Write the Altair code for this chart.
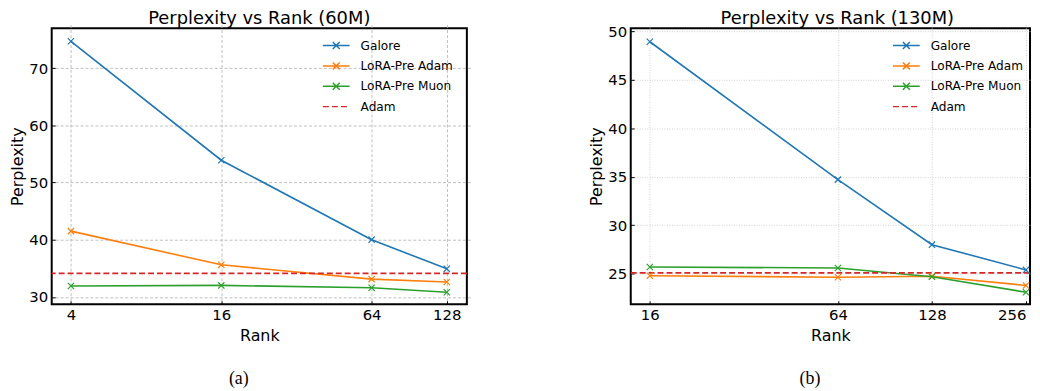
import altair as alt
import pandas as pd

# ---- data ----
series_names = ["Galore", "LoRA-Pre Adam", "LoRA-Pre Muon", "Adam"]
series_colors = ["#1f77b4", "#ff7f0e", "#2ca02c", "#d62728"]

ranks_60m = [4, 16, 64, 128]
galore_60m = [74.7, 53.9, 40.0, 34.9]
lorapre_adam_60m = [41.5, 35.6, 33.1, 32.6]
lorapre_muon_60m = [31.9, 32.0, 31.6, 30.8]
adam_60m = 34.1

ranks_130m = [16, 64, 128, 256]
galore_130m = [48.9, 34.7, 28.0, 25.4]
lorapre_adam_130m = [24.8, 24.65, 24.75, 23.8]
lorapre_muon_130m = [25.7, 25.6, 24.7, 23.1]
adam_130m = 25.1

y_ticks_60m = [30, 40, 50, 60, 70]
y_ticks_130m = [25, 30, 35, 40, 45, 50]

FONT = "DejaVu Sans"
X_PATH = "M-1,-1L1,1M-1,1L1,-1"
LEG_LINE_X = "M-2,0H2M-0.52,-0.52L0.52,0.52M-0.52,0.52L0.52,-0.52"
LEG_DASH = "M-2,0H-1.1M-0.65,0H0.25M0.7,0H1.6"
legend_shapes = [LEG_LINE_X, LEG_LINE_X, LEG_LINE_X, LEG_DASH]


def make_df(ranks, g, a, m):
    rows = []
    for name, vals in zip(series_names[:3], [g, a, m]):
        for r, v in zip(ranks, vals):
            rows.append({"Rank": r, "Perplexity": v, "Series": name})
    return pd.DataFrame(rows)


def panel(ranks, g, a, m, adam, xdom, ydom, yticks, title, grid_dash, grid_color,
          width, legend_x, title_dx, title_offset):
    df = make_df(ranks, g, a, m)
    adf = pd.DataFrame({"Perplexity": [adam], "Series": ["Adam"]})
    cscale = alt.Scale(domain=series_names, range=series_colors)
    legend = alt.Legend(
        title=None,
        orient="none",
        legendX=legend_x,
        legendY=10,
        labelFont=FONT,
        labelFontSize=12.2,
        labelColor="black",
        symbolSize=182,
        symbolStrokeWidth=1.5,
        symbolOpacity=1,
        symbolFillColor="transparent",
        labelOffset=17,
        rowPadding=5.5,
        padding=0,
    )
    xenc = alt.X(
        "Rank:Q",
        scale=alt.Scale(type="log", base=2, domain=xdom, nice=False),
        axis=alt.Axis(values=ranks, format="d", title="Rank", gridDash=grid_dash,
                      gridColor=grid_color, labelFlush=6),
    )
    yenc = alt.Y(
        "Perplexity:Q",
        scale=alt.Scale(domain=ydom, nice=False, zero=False),
        axis=alt.Axis(values=yticks, title="Perplexity", gridDash=grid_dash,
                      gridColor=grid_color),
    )
    color = alt.Color("Series:N", scale=cscale, legend=legend)
    shape = alt.Shape("Series:N", scale=alt.Scale(domain=series_names, range=legend_shapes),
                      legend=legend)
    lines = alt.Chart(df).mark_line(strokeWidth=1.6, clip=True).encode(
        x=xenc, y=yenc, color=color, detail="Series:N")
    pts = alt.Chart(df).mark_point(shape=X_PATH, filled=False, size=40, strokeWidth=1.2,
                                   opacity=1, clip=True).encode(
        x="Rank:Q", y="Perplexity:Q", color=color)
    rule = alt.Chart(adf).mark_rule(strokeDash=[6, 3], strokeWidth=1.8).encode(
        y="Perplexity:Q", color=color)
    legend_src = alt.Chart(df).mark_point(filled=False, strokeOpacity=0, size=1).encode(
        x="Rank:Q", y="Perplexity:Q", color=color, shape=shape,
    )
    layer = alt.layer(legend_src, lines, rule, pts).properties(
        width=width, height=278,
        title=alt.TitleParams(title, font=FONT, fontSize=18, fontWeight="normal",
                              color="black", offset=title_offset, frame="group",
                              dx=title_dx),
    )
    return layer


left = panel(ranks_60m, galore_60m, lorapre_adam_60m, lorapre_muon_60m, adam_60m,
             [3.35, 154], [28.7, 77], y_ticks_60m, "Perplexity vs Rank (60M)",
             [3, 2], "#b0b0b0", 418, 279, 0, 0)
right = panel(ranks_130m, galore_130m, lorapre_adam_130m, lorapre_muon_130m, adam_130m,
              [13.9, 263.7], [21.86, 50.3], y_ticks_130m, "Perplexity vs Rank (130M)",
              [1, 1.5], "#c8c8c8", 402, 270, 7, -3.5)

cap = dict(orient="bottom", font="Liberation Serif", fontSize=18, fontWeight="normal",
           color="black", offset=26, anchor="middle")
left_c = alt.VConcatChart(vconcat=[left], title=alt.TitleParams("(a)", **cap))
right_c = alt.VConcatChart(vconcat=[right], title=alt.TitleParams("(b)", **cap))

chart = alt.HConcatChart(hconcat=[left_c, right_c], spacing=119).resolve_legend(
    color="independent", shape="independent"
).properties(padding={"top": -1, "left": 0, "right": 0, "bottom": 0}).configure_view(
    stroke="black", strokeWidth=2
).configure_axis(
    labelFont=FONT, labelFontSize=15, labelColor="black",
    titleFont=FONT, titleFontSize=16, titleFontWeight="normal", titleColor="black",
    tickColor="black", tickSize=3.5, tickWidth=1, domain=False, offset=-3.5,
    gridWidth=0.8, gridOpacity=1,
).configure_axisY(
    labelPadding=4, titlePadding=3,
).configure_axisX(
    labelPadding=3, titlePadding=5,
)

chart.save("out.html", embed_options={"renderer": "svg", "actions": False})
